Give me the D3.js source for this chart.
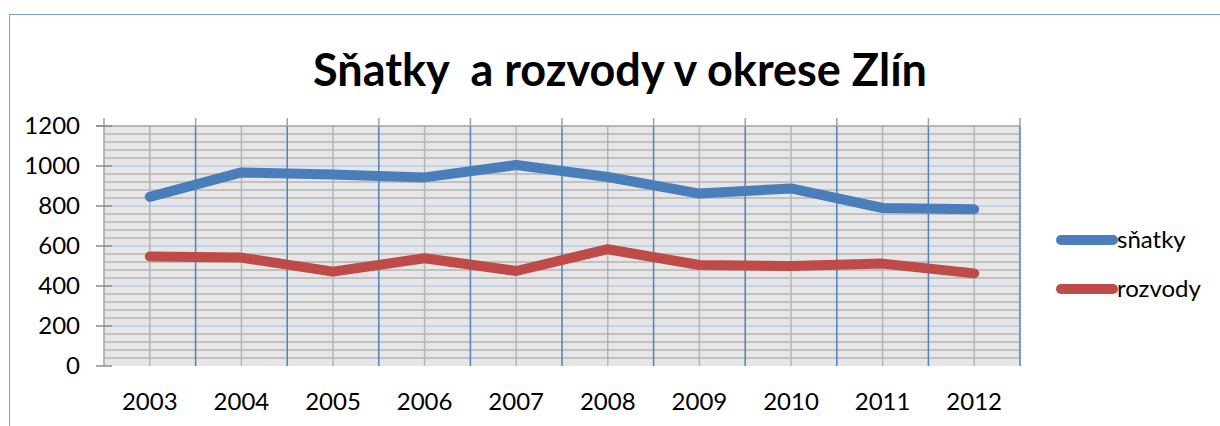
<!DOCTYPE html>
<html>
<head>
<meta charset="utf-8">
<script src="https://cdn.jsdelivr.net/npm/d3@7"></script>
<style>
  body { margin: 0; background: #fff; overflow: hidden; }
  svg { display: block; }
  text { font-family: Lato, "Open Sans", sans-serif; fill: #000; }
</style>
</head>
<body>
<div id="chart"></div>
<script>
// data
const years = ["2003","2004","2005","2006","2007","2008","2009","2010","2011","2012"];
const snatky  = [846, 968, 958, 943, 1005, 945, 862, 888, 790, 784];
const rozvody = [548, 542, 472, 539, 475, 584, 505, 500, 512, 463];
const yTicks = [0, 200, 400, 600, 800, 1000, 1200];
const minorStep = 40;
const seriesNames = ["sňatky", "rozvody"];
const colors = ["#4a7ebb", "#be4b48"];

let w = 1220, h = 426;

let svg = d3.select("#chart").append("svg")
    .attr("width", w)
    .attr("height", h);

// outer frame
svg.append("rect")
    .attr("x", 9.5).attr("y", 14.5)
    .attr("width", w + 20).attr("height", h + 20)
    .attr("fill", "#fff")
    .attr("stroke", "#7ba0d2");

svg.append("text")
    .attr("x", 620).attr("y", 86)
    .attr("text-anchor", "middle")
    .style("font-size", "45px")
    .style("font-weight", "bold")
    .style("white-space", "pre")
    .text("Sňatky  a rozvody v okrese Zlín");

let pLeft = 104, pRight = 1020, pTop = 126, pBottom = 366;

let x = d3.scaleBand().domain(years).range([pLeft, pRight]).padding(0);
let y = d3.scaleLinear().domain([0, 1200]).range([pBottom, pTop]);
let cx = d => x(d) + x.bandwidth() / 2;

let g = svg.append("g");

g.append("rect")
    .attr("x", pLeft).attr("y", pTop)
    .attr("width", pRight - pLeft).attr("height", pBottom - pTop)
    .attr("fill", "#e6e6e6");

// minor horizontal grid
g.append("g").selectAll("line")
    .data(d3.range(minorStep, 1200, minorStep).filter(v => v % 200 !== 0))
    .enter().append("line")
    .attr("x1", pLeft).attr("x2", pRight)
    .attr("y1", d => y(d)).attr("y2", d => y(d))
    .attr("stroke", "#b4b4b4")
    .attr("stroke-width", 1.5);

// major horizontal grid
g.append("g").selectAll("line")
    .data(yTicks.filter(v => v > 0 && v < 1200))
    .enter().append("line")
    .attr("x1", pLeft).attr("x2", pRight)
    .attr("y1", d => y(d)).attr("y2", d => y(d))
    .attr("stroke", "#b9cdec")
    .attr("stroke-width", 1.5);

// vertical gray lines at category centres
g.append("g").selectAll("line")
    .data(years)
    .enter().append("line")
    .attr("x1", d => cx(d)).attr("x2", d => cx(d))
    .attr("y1", pTop).attr("y2", pBottom)
    .attr("stroke", "#b4b4b4")
    .attr("stroke-width", 1.5);

// vertical blue lines at category boundaries
let bounds = years.slice(1).map(d => x(d)).concat([pRight]);
g.append("g").selectAll("line")
    .data(bounds)
    .enter().append("line")
    .attr("x1", d => d).attr("x2", d => d)
    .attr("y1", pTop).attr("y2", pBottom)
    .attr("stroke", "#4f81bd")
    .attr("stroke-width", 1.5);

// top line and tick marks above it
g.append("line")
    .attr("x1", pLeft - 8).attr("x2", pRight)
    .attr("y1", pTop).attr("y2", pTop)
    .attr("stroke", "#a0a0a0").attr("stroke-width", 1.5);
g.append("g").selectAll("line")
    .data([pLeft].concat(bounds))
    .enter().append("line")
    .attr("x1", d => d).attr("x2", d => d)
    .attr("y1", pTop - 8).attr("y2", pTop)
    .attr("stroke", "#a0a0a0").attr("stroke-width", 1.5);

// y axis
g.append("line")
    .attr("x1", pLeft).attr("x2", pLeft)
    .attr("y1", pTop).attr("y2", pBottom)
    .attr("stroke", "#a0a0a0").attr("stroke-width", 1.5);
g.append("g").selectAll("line")
    .data(yTicks)
    .enter().append("line")
    .attr("x1", pLeft - 8).attr("x2", pLeft + 8)
    .attr("y1", d => y(d)).attr("y2", d => y(d))
    .attr("stroke", "#8c8c8c").attr("stroke-width", 1.5);

g.append("g").selectAll("text")
    .data(yTicks)
    .enter().append("text")
    .attr("x", 80)
    .attr("y", d => y(d))
    .attr("dy", "0.35em")
    .attr("text-anchor", "end")
    .style("font-size", "24px")
    .text(d => d);

g.append("g").selectAll("text")
    .data(years)
    .enter().append("text")
    .attr("x", d => cx(d))
    .attr("y", 410)
    .attr("text-anchor", "middle")
    .style("font-size", "24px")
    .text(d => d);

// series
let line = d3.line().x((d, i) => cx(years[i])).y(d => y(d));
[snatky, rozvody].forEach((s, i) => {
    g.append("path")
        .attr("d", line(s))
        .attr("fill", "none")
        .attr("stroke", colors[i])
        .attr("stroke-width", 10)
        .attr("stroke-linecap", "round")
        .attr("stroke-linejoin", "round");
});

// legend
let legend = svg.append("g");
seriesNames.forEach((n, i) => {
    let ly = 240 + i * 49;
    legend.append("line")
        .attr("x1", 1061).attr("x2", 1113)
        .attr("y1", ly).attr("y2", ly)
        .attr("stroke", colors[i])
        .attr("stroke-width", 10)
        .attr("stroke-linecap", "round");
    legend.append("text")
        .attr("x", 1117).attr("y", ly)
        .attr("dy", "0.35em")
        .style("font-size", "24px")
        .text(n);
});
</script>
</body>
</html>
